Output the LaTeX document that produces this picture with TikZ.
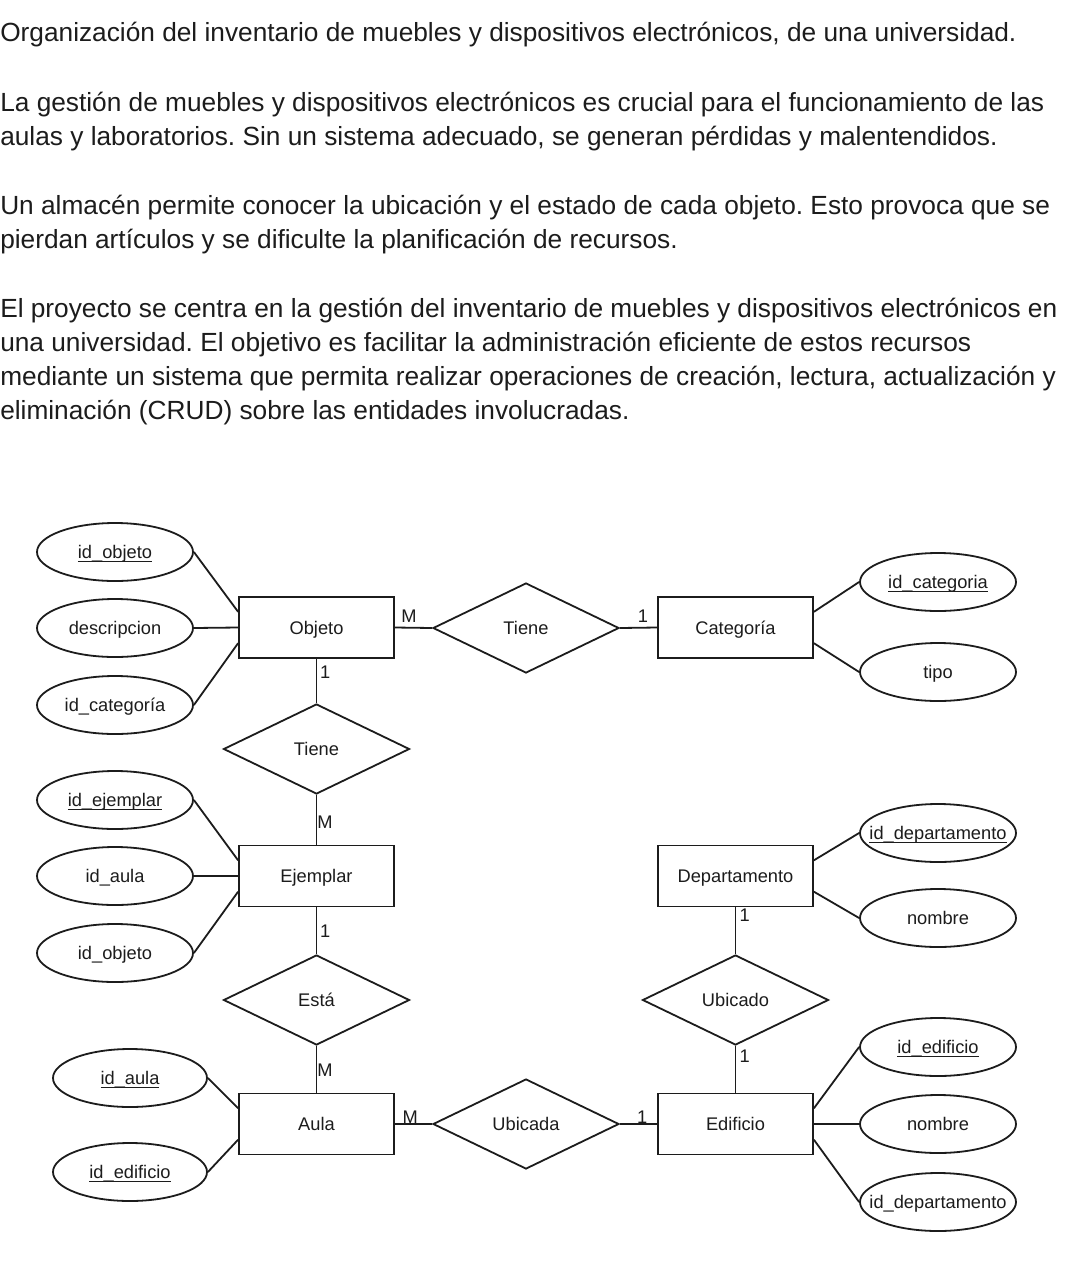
\documentclass[tikz,border=0pt]{standalone}
\usepackage{fontspec}
\setmainfont{Liberation Sans}
\usetikzlibrary{shapes.geometric,calc}
\definecolor{inkc}{RGB}{28,28,28}
\newlength\ulen
\newcommand\ukey[1]{\settowidth\ulen{#1}\rlap{\rule[-2.2pt]{\ulen}{0.7pt}}#1}
\newcommand\zw[1]{\makebox[0pt]{#1}}
\frenchspacing
\begin{document}
\begin{tikzpicture}[x=0.75pt,y=-0.75pt,
  dfont/.style={font=\fontsize{13.7pt}{16pt}\selectfont, text=inkc},
  ctext/.style={text height=9.8pt, text depth=0pt},
  ent/.style={rectangle, draw=inkc, line width=1.35pt, minimum width=116.25pt, minimum height=45.75pt, inner sep=0pt, dfont, ctext},
  rel/.style={diamond, draw=inkc, line width=1.35pt, minimum width=139.5pt, minimum height=67.5pt, inner sep=0pt, dfont, ctext},
  attr/.style={ellipse, draw=inkc, line width=1.35pt, minimum width=117pt, minimum height=43.5pt, inner sep=0pt, dfont, ctext},
  conn/.style={draw=inkc, line width=1.35pt},
  card/.style={inner sep=0pt, dfont},
  para/.style={anchor=base west, inner sep=0pt, font=\fontsize{19.7pt}{23pt}\selectfont, text=inkc}]
\fill[white] (0,0) rectangle (1080,1282);
\useasboundingbox (0,0) rectangle (1080,1282);

% ---- text ----
\node[para] (t1) at (0,41.7) {Organización del inventario de muebles y dispositivos electrónicos, de una universidad.};
\node[para] (t2) at (0,111.7) {La gestión de muebles y dispositivos electrónicos es crucial para el funcionamiento de las};
\node[para] (t3) at (0,145.7) {aulas y laboratorios. Sin un sistema adecuado, se generan pérdidas y malentendidos.};
\node[para] (t4) at (0,214) {Un almacén permite conocer la ubicación y el estado de cada objeto. Esto provoca que se};
\node[para] (t5) at (0,248) {pierdan artículos y se dificulte la planificación de recursos.};
\node[para] (t6) at (0,317) {El proyecto se centra en la gestión del inventario de muebles y dispositivos electrónicos en};
\node[para] (t7) at (0,351) {una universidad. El objetivo es facilitar la administración eficiente de estos recursos};
\node[para] (t8) at (0,385) {mediante un sistema que permita realizar operaciones de creación, lectura, actualización y};
\node[para] (t9) at (0,419) {eliminación (CRUD) sobre las entidades involucradas.};

% ---- entities ----
\node[ent] (obj) at (316.5,627.5) {Objeto};
\node[ent] (cat) at (735.5,627.5) {Categoría};
\node[ent] (eje) at (316.5,876) {Ejemplar};
\node[ent] (dep) at (735.5,876) {Departamento};
\node[ent] (aul) at (316.5,1124) {Aula};
\node[ent] (edi) at (735.5,1124) {Edificio};

% ---- relationships ----
\node[rel] (r1) at (526,628) {Tiene};
\node[rel] (r2) at (316.5,749) {Tiene};
\node[rel] (r3) at (316.5,1000) {Está};
\node[rel] (r4) at (735.5,1000) {Ubicado};
\node[rel] (r5) at (526,1124) {Ubicada};

% ---- attributes ----
\node[attr] (a1) at (115,552) {\zw{\ukey{id\_objeto}}};
\node[attr] (a2) at (115,628) {\zw{descripcion}};
\node[attr] (a3) at (115,705) {\zw{id\_categoría}};
\node[attr] (a4) at (938,582) {\zw{\ukey{id\_categoria}}};
\node[attr] (a5) at (938,672) {\zw{tipo}};
\node[attr] (a6) at (115,800) {\zw{\ukey{id\_ejemplar}}};
\node[attr] (a7) at (115,876) {\zw{id\_aula}};
\node[attr] (a8) at (115,953) {\zw{id\_objeto}};
\node[attr] (a9) at (938,833) {\zw{\ukey{id\_departamento}}};
\node[attr] (a10) at (938,918) {\zw{nombre}};
\node[attr, minimum width=115.5pt] (a11) at (130,1078) {\zw{\ukey{id\_aula}}};
\node[attr, minimum width=115.5pt] (a12) at (130,1172) {\zw{\ukey{id\_edificio}}};
\node[attr] (a13) at (938,1047) {\zw{\ukey{id\_edificio}}};
\node[attr] (a14) at (938,1124) {\zw{nombre}};
\node[attr] (a15) at (938,1202) {\zw{id\_departamento}};

% ---- attribute connectors ----
\draw[conn] (a1.east) -- ($(obj.north west)!0.25!(obj.south west)$);
\draw[conn] (a2.east) -- (obj.west);
\draw[conn] (a3.east) -- ($(obj.north west)!0.75!(obj.south west)$);
\draw[conn] (a4.west) -- ($(cat.north east)!0.25!(cat.south east)$);
\draw[conn] (a5.west) -- ($(cat.north east)!0.75!(cat.south east)$);
\draw[conn] (a6.east) -- ($(eje.north west)!0.25!(eje.south west)$);
\draw[conn] (a7.east) -- (eje.west);
\draw[conn] (a8.east) -- ($(eje.north west)!0.75!(eje.south west)$);
\draw[conn] (a9.west) -- ($(dep.north east)!0.25!(dep.south east)$);
\draw[conn] (a10.west) -- ($(dep.north east)!0.75!(dep.south east)$);
\draw[conn] (a11.east) -- ($(aul.north west)!0.25!(aul.south west)$);
\draw[conn] (a12.east) -- ($(aul.north west)!0.75!(aul.south west)$);
\draw[conn] (a13.west) -- ($(edi.north east)!0.25!(edi.south east)$);
\draw[conn] (a14.west) -- (edi.east);
\draw[conn] (a15.west) -- ($(edi.north east)!0.75!(edi.south east)$);

% ---- relationship connectors ----
\draw[conn] (obj.east) -- node[card, pos=0.38, anchor=south, yshift=3.5pt] {M} (r1.west);
\draw[conn] (r1.east) -- node[card, pos=0.62, anchor=south, yshift=3.5pt] {1} (cat.west);
\draw[conn] (obj.south) -- node[card, pos=0.3, anchor=west, xshift=2pt] {1} (r2.north);
\draw[conn] (r2.south) -- node[card, pos=0.55, anchor=west, xshift=0pt] {M} (eje.north);
\draw[conn] (eje.south) -- node[card, pos=0.5, anchor=west, xshift=2pt] {1} (r3.north);
\draw[conn] (r3.south) -- node[card, pos=0.51, anchor=west, xshift=0pt] {M} (aul.north);
\draw[conn] (aul.east) -- node[card, pos=0.41, anchor=south, yshift=0pt] {M} (r5.west);
\draw[conn] (r5.east) -- node[card, pos=0.6, anchor=south, yshift=0pt] {1} (edi.west);
\draw[conn] (dep.south) -- node[card, pos=0.17, anchor=west, xshift=2.5pt] {1} (r4.north);
\draw[conn] (r4.south) -- node[card, pos=0.22, anchor=west, xshift=2.5pt] {1} (edi.north);
\end{tikzpicture}
\end{document}
